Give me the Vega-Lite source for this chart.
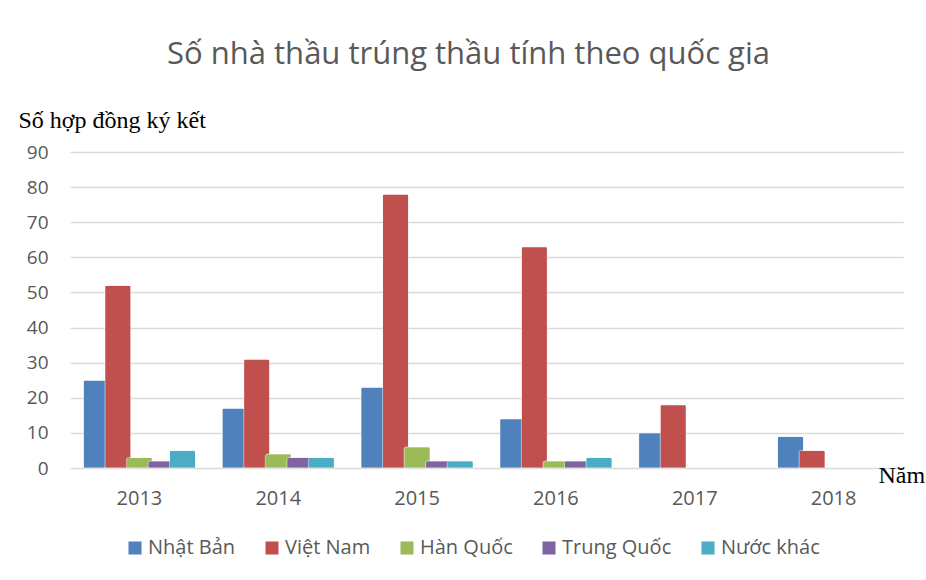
{
  "$schema": "https://vega.github.io/schema/vega-lite/v6.json",
  "width": 833,
  "height": 316,
  "autosize": "none",
  "padding": {"left": 70, "top": 152, "right": 23, "bottom": 112},
  "background": "white",
  "title": {
    "text": "Số nhà thầu trúng thầu tính theo quốc gia",
    "font": "Open Sans",
    "fontSize": 31,
    "fontWeight": "normal",
    "color": "#595959",
    "anchor": "middle",
    "frame": "group",
    "dx": -18,
    "baseline": "alphabetic",
    "offset": 13
  },
  "data": {
    "values": [
      {"year": "2013", "country": "Nhật Bản", "value": 25},
      {"year": "2013", "country": "Việt Nam", "value": 52},
      {"year": "2013", "country": "Hàn Quốc", "value": 3},
      {"year": "2013", "country": "Trung Quốc", "value": 2},
      {"year": "2013", "country": "Nước khác", "value": 5},
      {"year": "2014", "country": "Nhật Bản", "value": 17},
      {"year": "2014", "country": "Việt Nam", "value": 31},
      {"year": "2014", "country": "Hàn Quốc", "value": 4},
      {"year": "2014", "country": "Trung Quốc", "value": 3},
      {"year": "2014", "country": "Nước khác", "value": 3},
      {"year": "2015", "country": "Nhật Bản", "value": 23},
      {"year": "2015", "country": "Việt Nam", "value": 78},
      {"year": "2015", "country": "Hàn Quốc", "value": 6},
      {"year": "2015", "country": "Trung Quốc", "value": 2},
      {"year": "2015", "country": "Nước khác", "value": 2},
      {"year": "2016", "country": "Nhật Bản", "value": 14},
      {"year": "2016", "country": "Việt Nam", "value": 63},
      {"year": "2016", "country": "Hàn Quốc", "value": 2},
      {"year": "2016", "country": "Trung Quốc", "value": 2},
      {"year": "2016", "country": "Nước khác", "value": 3},
      {"year": "2017", "country": "Nhật Bản", "value": 10},
      {"year": "2017", "country": "Việt Nam", "value": 18},
      {"year": "2018", "country": "Nhật Bản", "value": 9},
      {"year": "2018", "country": "Việt Nam", "value": 5}
    ]
  },
  "mark": {
    "type": "bar",
    "width": 26,
    "cornerRadiusTopLeft": 2,
    "cornerRadiusTopRight": 2,
    "stroke": "white",
    "strokeOpacity": 0.5,
    "strokeWidth": 0.8
  },
  "encoding": {
    "x": {
      "field": "year",
      "type": "nominal",
      "scale": {"paddingInner": 0.224, "paddingOuter": 0.112},
      "axis": {
        "title": "Năm",
        "titleFont": "Liberation Serif",
        "titleFontSize": 24,
        "titleFontWeight": "normal",
        "titleColor": "black",
        "titleX": 808,
        "titleY": 14,
        "titleAlign": "left",
        "titleBaseline": "alphabetic",
        "labelAngle": 0,
        "labelFont": "Open Sans",
        "labelFontSize": 20,
        "labelColor": "#595959",
        "labelPadding": 20,
        "ticks": false,
        "domain": false
      }
    },
    "xOffset": {
      "field": "country",
      "type": "nominal",
      "sort": ["Nhật Bản", "Việt Nam", "Hàn Quốc", "Trung Quốc", "Nước khác"],
      "scale": {"domain": ["Nhật Bản", "Việt Nam", "Hàn Quốc", "Trung Quốc", "Nước khác"], "paddingInner": 0, "paddingOuter": 0}
    },
    "y": {
      "field": "value",
      "type": "quantitative",
      "scale": {"domain": [0, 90], "nice": false},
      "axis": {
        "values": [0, 10, 20, 30, 40, 50, 60, 70, 80, 90],
        "title": "Số hợp đồng ký kết",
        "titleFont": "Liberation Serif",
        "titleFontSize": 24,
        "titleFontWeight": "normal",
        "titleColor": "black",
        "titleAngle": 0,
        "titleX": -52,
        "titleY": -25,
        "titleAlign": "left",
        "titleBaseline": "alphabetic",
        "labelFont": "Open Sans",
        "labelFontSize": 19,
        "labelColor": "#595959",
        "labelPadding": 22,
        "ticks": false,
        "domain": false,
        "grid": true,
        "gridColor": "#d9d9d9",
        "gridWidth": 1.5
      }
    },
    "color": {
      "field": "country",
      "type": "nominal",
      "sort": ["Nhật Bản", "Việt Nam", "Hàn Quốc", "Trung Quốc", "Nước khác"],
      "scale": {
        "domain": ["Nhật Bản", "Việt Nam", "Hàn Quốc", "Trung Quốc", "Nước khác"],
        "range": ["#4F81BD", "#C0504D", "#9BBB59", "#8064A2", "#4BACC6"]
      },
      "legend": {
        "title": null,
        "orient": "none",
        "legendX": 55,
        "legendY": 386,
        "direction": "horizontal",
        "symbolType": "square",
        "symbolSize": 170,
        "symbolStrokeWidth": 0,
        "labelFont": "Open Sans",
        "labelFontSize": 20,
        "labelColor": "#595959",
        "labelOffset": 3,
        "columnPadding": 26
      }
    }
  },
  "config": {
    "view": {"stroke": null}
  }
}
